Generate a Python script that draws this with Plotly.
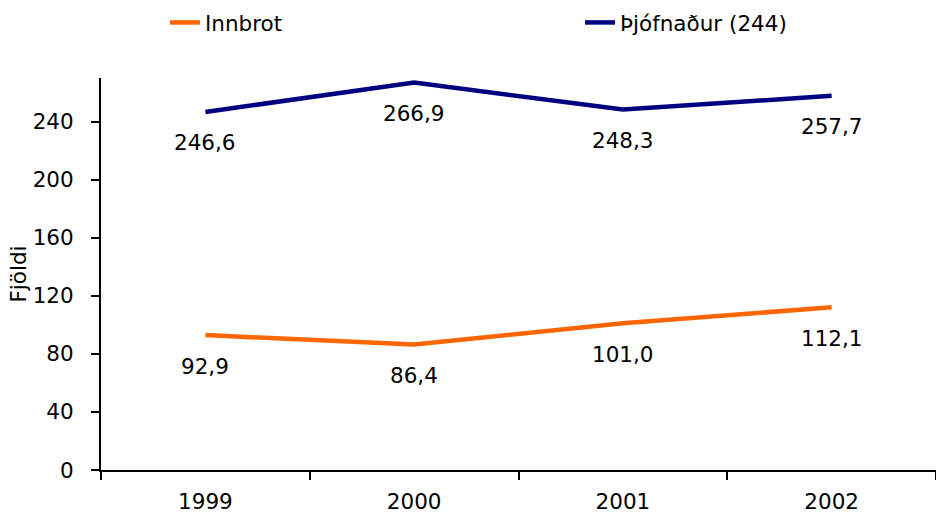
import plotly.graph_objects as go

years = ["1999", "2000", "2001", "2002"]
innbrot = [92.9, 86.4, 101.0, 112.1]
thjofnadur = [246.6, 266.9, 248.3, 257.7]
innbrot_labels = ["92,9", "86,4", "101,0", "112,1"]
thjofnadur_labels = ["246,6", "266,9", "248,3", "257,7"]
y_ticks = [0, 40, 80, 120, 160, 200, 240]

FONT = "DejaVu Sans"
FS = 21.5
ORANGE = "#FF6600"
NAVY = "#000080"

fig = go.Figure()
fig.add_trace(go.Scatter(x=years, y=innbrot, mode="lines", name="Innbrot",
                         line=dict(color=ORANGE, width=4.5), legend="legend"))
fig.add_trace(go.Scatter(x=years, y=thjofnadur, mode="lines", name="Þjófnaður (244)",
                         line=dict(color=NAVY, width=4.5), legend="legend2"))

annotations = []
for ys, labels in [(innbrot, innbrot_labels), (thjofnadur, thjofnadur_labels)]:
    for i, (yv, t) in enumerate(zip(ys, labels)):
        annotations.append(dict(x=i, y=yv, text=t, showarrow=False, xref="x", yref="y",
                                yanchor="middle", xanchor="center", yshift=-31,
                                font=dict(family=FONT, size=FS, color="black")))

leg_common = dict(orientation="h", xref="paper", yref="paper", yanchor="top",
                  xanchor="left", font=dict(family=FONT, size=FS, color="black"),
                  bgcolor="rgba(0,0,0,0)")

fig.update_layout(
    width=936, height=515,
    margin=dict(l=101, r=0, t=78, b=45, autoexpand=False),
    plot_bgcolor="white", paper_bgcolor="white",
    font=dict(family=FONT, size=FS, color="black"),
    showlegend=True,
    legend=dict(x=0.0766, y=1.194, **leg_common),
    legend2=dict(x=0.5737, y=1.194, **leg_common),
    annotations=annotations,
)
fig.update_xaxes(type="category", range=[-0.5, 3.5], showline=True, linecolor="black",
                 linewidth=2, ticks="outside", tickson="boundaries", ticklen=8,
                 tickwidth=2, tickcolor="black", showgrid=False, zeroline=False,
                 automargin=False, ticklabelstandoff=11,
                 tickfont=dict(family=FONT, size=FS))
fig.update_yaxes(range=[0, 270], tickvals=y_ticks, showline=True, linecolor="black",
                 linewidth=2, ticks="outside", ticklen=8, tickwidth=2, tickcolor="black",
                 showgrid=False, zeroline=False, automargin=False, ticklabelstandoff=13,
                 tickfont=dict(family=FONT, size=FS),
                 title=dict(text="Fjöldi", standoff=0, font=dict(family=FONT, size=FS)))

fig.write_html(
    "out.html",
    config={"displayModeBar": False},
    post_script="document.body.style.margin='0';document.body.style.overflow='hidden';",
)
